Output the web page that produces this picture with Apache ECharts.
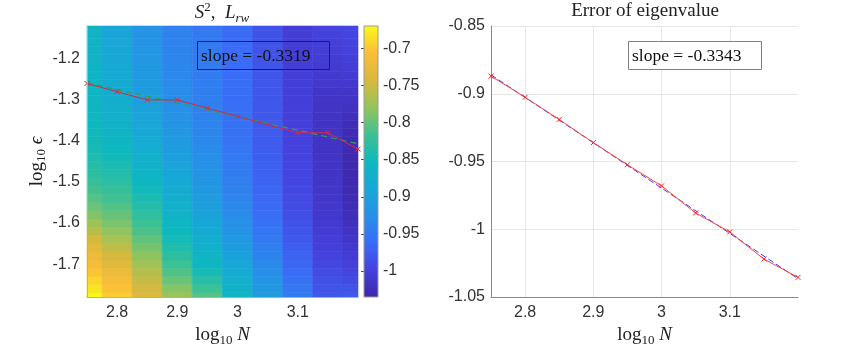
<!DOCTYPE html>
<html>
<head>
<meta charset="utf-8">
<script src="https://cdn.jsdelivr.net/npm/echarts@6/dist/echarts.min.js"></script>
<style>
html, body { margin: 0; background: #fff; }
#main { width: 853px; height: 345px; }
</style>
</head>
<body>
<div id="main"></div>
<script>
// grid of the sweep: columns are log10 N, rows are log10 eps (bottom to top)
var logN = [2.75, 2.8, 2.85, 2.9, 2.95, 3.0, 3.05, 3.1, 3.15, 3.2];
var logEps = [-1.78, -1.76, -1.74, -1.72, -1.70, -1.68, -1.66, -1.64, -1.62, -1.60,
    -1.58, -1.56, -1.54, -1.52, -1.50, -1.48, -1.46, -1.44, -1.42, -1.40,
    -1.38, -1.36, -1.34, -1.32, -1.30, -1.28, -1.26, -1.24, -1.22, -1.20,
    -1.18, -1.16, -1.14, -1.12];

// log10 error, one array per column (same order as logEps)
var errCols = [
    [-0.672, -0.683, -0.692, -0.702, -0.712, -0.721, -0.733, -0.746, -0.76, -0.774, -0.787, -0.797, -0.806, -0.814, -0.821, -0.828, -0.834, -0.839, -0.843, -0.847, -0.85, -0.853, -0.855, -0.857, -0.858, -0.859, -0.86, -0.861, -0.862, -0.862, -0.863, -0.863, -0.864, -0.864],
    [-0.697, -0.704, -0.712, -0.722, -0.734, -0.745, -0.757, -0.769, -0.781, -0.79, -0.799, -0.807, -0.815, -0.822, -0.829, -0.836, -0.842, -0.848, -0.853, -0.858, -0.862, -0.866, -0.87, -0.873, -0.876, -0.879, -0.882, -0.884, -0.886, -0.888, -0.89, -0.891, -0.893, -0.894],
    [-0.737, -0.745, -0.752, -0.762, -0.772, -0.782, -0.792, -0.801, -0.81, -0.818, -0.826, -0.834, -0.842, -0.849, -0.855, -0.861, -0.867, -0.873, -0.878, -0.883, -0.887, -0.891, -0.895, -0.899, -0.902, -0.905, -0.908, -0.91, -0.912, -0.914, -0.916, -0.918, -0.919, -0.921],
    [-0.775, -0.785, -0.797, -0.808, -0.818, -0.828, -0.838, -0.846, -0.852, -0.858, -0.864, -0.87, -0.876, -0.882, -0.887, -0.892, -0.897, -0.902, -0.906, -0.91, -0.914, -0.918, -0.921, -0.924, -0.927, -0.929, -0.931, -0.933, -0.935, -0.936, -0.938, -0.939, -0.94, -0.941],
    [-0.805, -0.818, -0.832, -0.844, -0.854, -0.862, -0.87, -0.877, -0.884, -0.89, -0.896, -0.902, -0.907, -0.912, -0.916, -0.92, -0.924, -0.927, -0.93, -0.933, -0.935, -0.937, -0.939, -0.941, -0.942, -0.943, -0.944, -0.945, -0.946, -0.947, -0.948, -0.949, -0.949, -0.95],
    [-0.86, -0.866, -0.874, -0.883, -0.891, -0.899, -0.906, -0.913, -0.919, -0.924, -0.929, -0.933, -0.937, -0.94, -0.943, -0.946, -0.948, -0.95, -0.952, -0.954, -0.955, -0.956, -0.957, -0.958, -0.959, -0.96, -0.96, -0.961, -0.961, -0.962, -0.962, -0.963, -0.963, -0.963],
    [-0.905, -0.912, -0.919, -0.926, -0.932, -0.938, -0.943, -0.948, -0.952, -0.956, -0.959, -0.962, -0.965, -0.967, -0.969, -0.971, -0.972, -0.973, -0.975, -0.976, -0.977, -0.978, -0.979, -0.979, -0.98, -0.98, -0.981, -0.981, -0.982, -0.982, -0.982, -0.983, -0.983, -0.983],
    [-0.945, -0.95, -0.956, -0.961, -0.966, -0.97, -0.974, -0.978, -0.981, -0.984, -0.987, -0.989, -0.991, -0.993, -0.994, -0.995, -0.996, -0.997, -0.998, -0.999, -1.0, -1.0, -1.001, -1.001, -1.002, -1.002, -1.002, -1.003, -1.003, -1.003, -1.003, -1.004, -1.004, -1.004],
    [-0.978, -0.982, -0.986, -0.99, -0.994, -0.998, -1.001, -1.004, -1.006, -1.008, -1.01, -1.011, -1.012, -1.013, -1.014, -1.015, -1.016, -1.016, -1.017, -1.017, -1.017, -1.017, -1.016, -1.015, -1.014, -1.013, -1.011, -1.009, -1.007, -1.005, -1.003, -1.001, -0.999, -0.997],
    [-0.975, -0.982, -0.99, -0.996, -1.0, -1.005, -1.009, -1.013, -1.017, -1.02, -1.023, -1.025, -1.027, -1.028, -1.029, -1.03, -1.03, -1.03, -1.029, -1.028, -1.027, -1.025, -1.022, -1.019, -1.016, -1.013, -1.01, -1.007, -1.004, -1.001, -0.999, -0.997, -0.995, -0.993]
];

// best eps per N and its fitted line (ends at first and last N)
var bestEps = [-1.26, -1.28, -1.30, -1.30, -1.32, -1.34, -1.36, -1.38, -1.38, -1.42];
var bestEpsFit = [-1.258, -1.407];

// right panel: error of eigenvalue and its fitted line
var eigErr = [-0.887, -0.9026, -0.919, -0.9361, -0.9524, -0.968, -0.988, -1.002, -1.022, -1.0355];
var eigFit = [-0.886, -1.0365];

var xTicks = [2.8, 2.9, 3, 3.1];
var epsTicks = [-1.7, -1.6, -1.5, -1.4, -1.3, -1.2];
var cbarTicks = [-1, -0.95, -0.9, -0.85, -0.8, -0.75, -0.7];
var cbarRange = [-1.035, -0.67];

var parula = ['#3E26A8', '#4541DE', '#3A6CF7', '#2790E8', '#17A8D6', '#0DB8BE',
    '#3DC192', '#94C45C', '#D9B83C', '#FBBE38', '#F9FB15'];

var heat = [];
logN.forEach(function (x, j) {
    logEps.forEach(function (y, i) {
        heat.push([x, y, errCols[j][i]]);
    });
});
var halfX = (logN[1] - logN[0]) / 2;
var halfY = (logEps[1] - logEps[0]) / 2;
var lastN = logN[logN.length - 1];

var serif = 'Liberation Serif';
var sans = 'Liberation Sans';
var mathRich = {
    r: { fontFamily: serif, fontSize: 19, fontWeight: 'normal', color: '#222', lineHeight: 24 },
    i: { fontFamily: serif, fontSize: 19, fontWeight: 'normal', fontStyle: 'italic', color: '#222', lineHeight: 24 },
    s: { fontFamily: serif, fontSize: 13, fontWeight: 'normal', color: '#222', verticalAlign: 'bottom', lineHeight: 10 },
    si: { fontFamily: serif, fontSize: 13, fontWeight: 'normal', fontStyle: 'italic', color: '#222', verticalAlign: 'bottom', lineHeight: 10 },
    sup: { fontFamily: serif, fontSize: 13, fontWeight: 'normal', color: '#222', verticalAlign: 'top', lineHeight: 14 }
};
var tickLabel = { fontFamily: sans, fontSize: 16, color: '#333' };

function renderCell(params, api) {
    var x = api.value(0), y = api.value(1);
    var a = api.coord([x - halfX, y + halfY]);
    var b = api.coord([x + halfX, y - halfY]);
    var cs = params.coordSys;
    var shape = echarts.graphic.clipRectByRect(
        { x: a[0], y: a[1], width: b[0] - a[0], height: b[1] - a[1] },
        { x: cs.x, y: cs.y, width: cs.width, height: cs.height });
    if (!shape) return;
    var c = api.visual('color');
    return { type: 'rect', shape: shape, style: { fill: c, stroke: c, lineWidth: 0.6 } };
}

function renderColorbar(params, api) {
    var top = api.coord([0, cbarRange[1]]);
    var bot = api.coord([1, cbarRange[0]]);
    var stops = parula.map(function (c, k) {
        return { offset: 1 - k / (parula.length - 1), color: c };
    });
    return {
        type: 'rect',
        shape: { x: top[0], y: top[1], width: bot[0] - top[0], height: bot[1] - top[1] },
        style: {
            fill: new echarts.graphic.LinearGradient(0, 0, 0, 1, stops),
            stroke: '#9a9a9a', lineWidth: 1
        }
    };
}

var chart = echarts.init(document.getElementById('main'));
var option = {
    animation: false,
    backgroundColor: '#fff',
    textStyle: { fontFamily: sans },
    title: [
        {
            text: '{i|S}{sup|2}{r|,  }{i|L}{si|rw}',
            left: 222, top: 1, padding: 0, textAlign: 'center',
            textStyle: { fontWeight: 'normal', rich: mathRich }
        },
        {
            text: 'Error of eigenvalue',
            left: 645, top: 2, padding: 0, textAlign: 'center',
            textStyle: { fontFamily: serif, fontSize: 19, fontWeight: 'normal', color: '#222' }
        }
    ],
    grid: [
        { left: 87, top: 26, width: 271, height: 271, containLabel: false, outerBoundsMode: 'none' },
        { left: 364, top: 26, width: 14, height: 271, containLabel: false, outerBoundsMode: 'none' },
        { left: 491, top: 26, width: 307, height: 271, containLabel: false, outerBoundsMode: 'none' }
    ],
    visualMap: {
        show: false, type: 'continuous', seriesIndex: 0, dimension: 2,
        min: cbarRange[0], max: cbarRange[1],
        inRange: { color: parula }
    },
    xAxis: [
        {
            gridIndex: 0, type: 'value', min: logN[0], max: lastN, z: 5,
            name: '{r|log}{s|10}{i| N}', nameLocation: 'middle', nameGap: 24,
            nameTextStyle: { rich: mathRich },
            axisLine: { onZero: false, lineStyle: { color: '#b0b0b0' } },
            axisTick: { show: false, customValues: xTicks },
            axisLabel: Object.assign({ customValues: xTicks, margin: 8 }, tickLabel),
            splitLine: { show: false }
        },
        { gridIndex: 1, type: 'value', min: 0, max: 1, show: false },
        {
            gridIndex: 2, type: 'value', min: logN[0], max: lastN,
            name: '{r|log}{s|10}{i| N}', nameLocation: 'middle', nameGap: 24,
            nameTextStyle: { rich: mathRich },
            axisLine: { onZero: false, lineStyle: { color: '#8a8a8a' } },
            axisTick: { show: false, customValues: xTicks },
            axisLabel: Object.assign({ customValues: xTicks, margin: 8 }, tickLabel),
            splitLine: { show: true, lineStyle: { color: '#e6e6e6' } }
        }
    ],
    yAxis: [
        {
            gridIndex: 0, type: 'value', min: logEps[0], max: logEps[logEps.length - 1], z: 5,
            name: '{r|log}{s|10}{i| ϵ}', nameLocation: 'middle', nameGap: 35, nameRotate: 90,
            nameTextStyle: { rich: mathRich },
            axisLine: { onZero: false, lineStyle: { color: '#b0b0b0' } },
            axisTick: { show: false, customValues: epsTicks },
            axisLabel: Object.assign({ customValues: epsTicks, margin: 7, padding: [4, 0, 0, 0] }, tickLabel),
            splitLine: { show: false }
        },
        {
            gridIndex: 1, type: 'value', position: 'right',
            min: cbarRange[0], max: cbarRange[1],
            axisLine: { show: false },
            axisTick: { show: true, inside: true, length: 3, customValues: cbarTicks, lineStyle: { color: '#444' } },
            axisLabel: Object.assign({ customValues: cbarTicks, margin: 5, padding: [4, 0, 0, 0] }, tickLabel),
            splitLine: { show: false }
        },
        {
            gridIndex: 2, type: 'value', min: -1.05, max: -0.85, interval: 0.05,
            axisLine: { show: true, onZero: false, lineStyle: { color: '#8a8a8a' } },
            axisTick: { show: false },
            axisLabel: Object.assign({ margin: 6, padding: [4, 0, 0, 0] }, tickLabel),
            splitLine: { show: true, lineStyle: { color: '#e6e6e6' } }
        }
    ],
    series: [
        {
            type: 'custom', xAxisIndex: 0, yAxisIndex: 0,
            renderItem: renderCell, encode: { x: 0, y: 1 },
            data: heat, z: 1, silent: true
        },
        {
            type: 'custom', xAxisIndex: 1, yAxisIndex: 1,
            renderItem: renderColorbar, data: [[0, cbarRange[0]]], silent: true
        },
        {
            type: 'line', xAxisIndex: 0, yAxisIndex: 0, z: 3,
            data: [[logN[0], bestEpsFit[0]], [lastN, bestEpsFit[1]]],
            symbol: 'none',
            lineStyle: { color: '#2e9e5e', width: 1.2, type: [6, 4] }
        },
        {
            type: 'line', xAxisIndex: 0, yAxisIndex: 0, z: 4,
            data: logN.map(function (x, k) { return [x, bestEps[k]]; }),
            symbol: 'path://M0,0L1,1M1,0L0,1', symbolSize: 5,
            itemStyle: { color: 'rgba(0,0,0,0)', borderColor: '#e0283c', borderWidth: 1 },
            lineStyle: { color: '#d8283c', width: 1 }
        },
        {
            type: 'line', xAxisIndex: 2, yAxisIndex: 2, z: 3,
            data: [[logN[0], eigFit[0]], [lastN, eigFit[1]]],
            symbol: 'none',
            lineStyle: { color: '#3b3bff', width: 1, type: [6, 3] }
        },
        {
            type: 'line', xAxisIndex: 2, yAxisIndex: 2, z: 4,
            data: logN.map(function (x, k) { return [x, eigErr[k]]; }),
            symbol: 'path://M0,0L1,1M1,0L0,1', symbolSize: 5,
            itemStyle: { color: 'rgba(0,0,0,0)', borderColor: '#ff2020', borderWidth: 1 },
            lineStyle: { color: '#ff4040', width: 1 }
        }
    ],
    graphic: [
        {
            type: 'rect', z: 100,
            shape: { x: 197.5, y: 41.5, width: 132, height: 28 },
            style: { fill: 'none', stroke: '#1d2240', lineWidth: 1 }
        },
        {
            type: 'text', z: 101, x: 201, y: 56,
            style: { text: 'slope = -0.3319', fontFamily: serif, fontSize: 17.5, fill: '#111', verticalAlign: 'middle' }
        },
        {
            type: 'rect', z: 100,
            shape: { x: 628.5, y: 41.5, width: 133, height: 28 },
            style: { fill: '#fff', stroke: '#808080', lineWidth: 1 }
        },
        {
            type: 'text', z: 101, x: 632, y: 56,
            style: { text: 'slope = -0.3343', fontFamily: serif, fontSize: 17.5, fill: '#111', verticalAlign: 'middle' }
        }
    ]
};
chart.setOption(option);
</script>
</body>
</html>
